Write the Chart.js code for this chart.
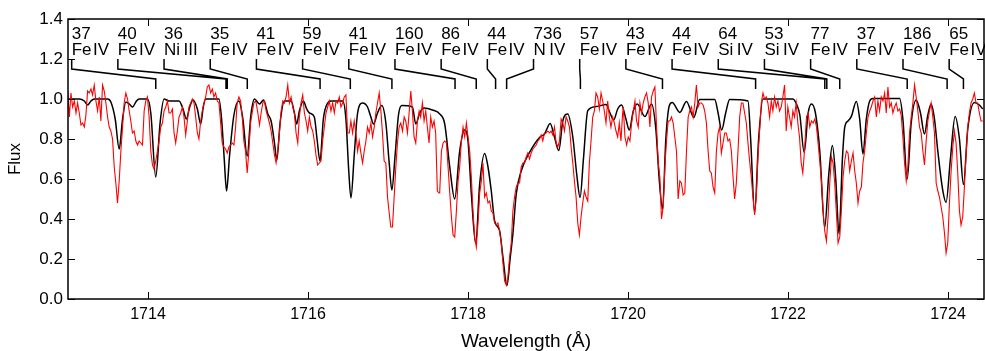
<!DOCTYPE html>
<html>
<head>
<meta charset="utf-8">
<script src="https://cdn.jsdelivr.net/npm/chart.js@4.4.1/dist/chart.umd.min.js"></script>
<style>
  html, body { margin: 0; padding: 0; background: #fff; }
  #wrap { width: 985px; height: 351px; }
</style>
</head>
<body>
<div id="wrap"><canvas id="spec" width="985" height="351"></canvas></div>
<script>
// observed spectrum (red)
const obsWave = [
  1712.996, 1713.017, 1713.037, 1713.058, 1713.079, 1713.100, 1713.120, 1713.141, 1713.162, 1713.183,
  1713.204, 1713.224, 1713.245, 1713.266, 1713.287, 1713.307, 1713.328, 1713.349, 1713.370, 1713.391,
  1713.411, 1713.432, 1713.453, 1713.474, 1713.495, 1713.515, 1713.536, 1713.557, 1713.578, 1713.598,
  1713.619, 1713.640, 1713.661, 1713.682, 1713.702, 1713.723, 1713.744, 1713.765, 1713.785, 1713.806,
  1713.827, 1713.848, 1713.869, 1713.889, 1713.910, 1713.931, 1713.952, 1713.972, 1713.993, 1714.014,
  1714.035, 1714.056, 1714.076, 1714.097, 1714.118, 1714.139, 1714.159, 1714.180, 1714.201, 1714.222,
  1714.243, 1714.263, 1714.284, 1714.305, 1714.326, 1714.346, 1714.367, 1714.388, 1714.409, 1714.430,
  1714.450, 1714.471, 1714.492, 1714.513, 1714.534, 1714.554, 1714.575, 1714.596, 1714.617, 1714.637,
  1714.658, 1714.679, 1714.700, 1714.721, 1714.741, 1714.762, 1714.783, 1714.804, 1714.824, 1714.845,
  1714.866, 1714.887, 1714.908, 1714.928, 1714.949, 1714.970, 1714.991, 1715.011, 1715.032, 1715.053,
  1715.074, 1715.095, 1715.115, 1715.136, 1715.157, 1715.178, 1715.198, 1715.219, 1715.240, 1715.261,
  1715.282, 1715.302, 1715.323, 1715.344,
  1715.352, 1715.373, 1715.394, 1715.414, 1715.435, 1715.456, 1715.477, 1715.498, 1715.518, 1715.539,
  1715.560, 1715.581, 1715.601, 1715.622, 1715.643, 1715.664, 1715.685, 1715.705, 1715.726, 1715.747,
  1715.768, 1715.789, 1715.809, 1715.830, 1715.851, 1715.872, 1715.892, 1715.913, 1715.934, 1715.955,
  1715.976, 1715.996, 1716.017, 1716.038, 1716.059, 1716.079, 1716.100, 1716.121, 1716.142, 1716.163,
  1716.183, 1716.204, 1716.225, 1716.246, 1716.266, 1716.287, 1716.308, 1716.329, 1716.350, 1716.370,
  1716.391, 1716.412, 1716.433, 1716.453, 1716.474, 1716.495, 1716.516, 1716.536, 1716.557, 1716.578,
  1716.599, 1716.620, 1716.640, 1716.661, 1716.682, 1716.703, 1716.724, 1716.744, 1716.765, 1716.786,
  1716.807, 1716.828, 1716.848, 1716.869, 1716.890, 1716.911, 1716.931, 1716.952, 1716.973, 1716.994,
  1717.015, 1717.035, 1717.056, 1717.077, 1717.098, 1717.118, 1717.139, 1717.160, 1717.181, 1717.202,
  1717.222, 1717.243, 1717.264, 1717.285, 1717.305, 1717.326, 1717.347, 1717.368, 1717.389, 1717.409,
  1717.430, 1717.451, 1717.472, 1717.492, 1717.513, 1717.534, 1717.555, 1717.576, 1717.596, 1717.617,
  1717.638,
  1717.647, 1717.668, 1717.689, 1717.709, 1717.730, 1717.751, 1717.772, 1717.793, 1717.813, 1717.834,
  1717.855, 1717.876, 1717.896, 1717.917, 1717.938, 1717.959, 1717.980, 1718.000, 1718.021, 1718.042,
  1718.063, 1718.084, 1718.104, 1718.125, 1718.146, 1718.167, 1718.187, 1718.208, 1718.229, 1718.250,
  1718.271, 1718.291, 1718.312, 1718.333, 1718.354, 1718.374, 1718.395, 1718.416, 1718.437, 1718.458,
  1718.478, 1718.499, 1718.520, 1718.541, 1718.561, 1718.582, 1718.603, 1718.624, 1718.645, 1718.665,
  1718.686, 1718.707, 1718.728, 1718.748, 1718.769, 1718.790, 1718.811, 1718.832, 1718.852, 1718.873,
  1718.894, 1718.915, 1718.935, 1718.956, 1718.977, 1718.998, 1719.019, 1719.039, 1719.060, 1719.081,
  1719.102, 1719.123, 1719.143, 1719.164, 1719.185, 1719.206, 1719.226, 1719.247, 1719.268, 1719.289,
  1719.310, 1719.330, 1719.351, 1719.372, 1719.393, 1719.413, 1719.434, 1719.455, 1719.476, 1719.497,
  1719.517, 1719.538, 1719.559, 1719.580, 1719.600, 1719.621, 1719.642, 1719.663, 1719.684, 1719.704,
  1719.725, 1719.746, 1719.767, 1719.787, 1719.808, 1719.829, 1719.850, 1719.871, 1719.891, 1719.912,
  1719.933,
  1719.941, 1719.962, 1719.983, 1720.003, 1720.024, 1720.045, 1720.066, 1720.087, 1720.107, 1720.128,
  1720.149, 1720.170, 1720.190, 1720.211, 1720.232, 1720.253, 1720.274, 1720.294, 1720.315, 1720.336,
  1720.357, 1720.378, 1720.398, 1720.419, 1720.440, 1720.461, 1720.481, 1720.502, 1720.523, 1720.544,
  1720.565, 1720.585, 1720.606, 1720.627, 1720.648, 1720.668, 1720.689, 1720.710, 1720.731, 1720.752,
  1720.772, 1720.793, 1720.814, 1720.835, 1720.855, 1720.876, 1720.897, 1720.918, 1720.939, 1720.959,
  1720.980, 1721.001, 1721.022, 1721.042, 1721.063, 1721.084, 1721.105, 1721.126, 1721.146, 1721.167,
  1721.188, 1721.209, 1721.229, 1721.250, 1721.271, 1721.292, 1721.313, 1721.333, 1721.354, 1721.375,
  1721.396, 1721.417, 1721.437, 1721.458, 1721.479, 1721.500, 1721.520, 1721.541, 1721.562, 1721.583,
  1721.604, 1721.624, 1721.645, 1721.666, 1721.687, 1721.707, 1721.728, 1721.749, 1721.770, 1721.791,
  1721.811, 1721.832, 1721.853, 1721.874, 1721.894, 1721.915, 1721.936, 1721.957, 1721.978, 1721.998,
  1722.019, 1722.040, 1722.061, 1722.081, 1722.102, 1722.123, 1722.144, 1722.165, 1722.185, 1722.206,
  1722.231, 1722.252, 1722.272, 1722.293, 1722.314, 1722.335, 1722.356, 1722.376, 1722.397, 1722.418,
  1722.439, 1722.459, 1722.480, 1722.501, 1722.522, 1722.543, 1722.563, 1722.584, 1722.605, 1722.626,
  1722.647, 1722.667, 1722.688, 1722.709, 1722.730, 1722.750, 1722.771, 1722.792, 1722.813, 1722.834,
  1722.854, 1722.875, 1722.896, 1722.917, 1722.937, 1722.958, 1722.979, 1723.000, 1723.021, 1723.041,
  1723.062, 1723.083, 1723.104, 1723.124, 1723.145, 1723.166, 1723.187, 1723.208, 1723.228, 1723.249,
  1723.270, 1723.291, 1723.311, 1723.332, 1723.353, 1723.374, 1723.395, 1723.415, 1723.436, 1723.457,
  1723.478, 1723.498, 1723.519, 1723.540, 1723.561, 1723.582, 1723.602, 1723.623, 1723.644, 1723.665,
  1723.686, 1723.706, 1723.727, 1723.748, 1723.769, 1723.789, 1723.810, 1723.831, 1723.852, 1723.873,
  1723.893, 1723.914, 1723.935, 1723.956, 1723.976, 1723.997, 1724.018, 1724.039, 1724.060, 1724.080,
  1724.101, 1724.122, 1724.143, 1724.163, 1724.184, 1724.205, 1724.226, 1724.247, 1724.267, 1724.288,
  1724.309, 1724.330, 1724.350, 1724.371, 1724.392, 1724.413, 1724.434
];
const obsFlux = [
  1.04, 0.91, 1.03, 0.96, 0.99, 0.93, 0.98, 0.93, 0.87, 0.88,
  0.86, 0.92, 1.04, 1.03, 1.05, 1.02, 1.07, 0.99, 0.94, 1.01,
  0.89, 1.07, 1.04, 0.98, 0.91, 0.86, 0.84, 0.80, 0.66, 0.58,
  0.48, 0.59, 0.74, 0.86, 0.98, 1.03, 1.00, 0.94, 0.89, 0.83,
  0.84, 0.79, 0.77, 0.79, 0.78, 0.77, 0.94, 0.99, 1.01, 0.91,
  0.74, 0.67, 0.65, 0.69, 0.74, 0.79, 0.86, 0.88, 0.94, 0.96,
  0.99, 0.93, 0.93, 0.95, 0.83, 0.78, 0.84, 0.91, 0.93, 0.96,
  0.91, 0.82, 0.89, 0.96, 0.98, 1.00, 0.98, 0.91, 0.83, 0.80,
  0.89, 0.94, 0.98, 1.01, 1.06, 1.07, 1.03, 1.05, 1.01, 1.03,
  0.99, 0.98, 0.88, 0.78, 0.76, 0.75, 0.73, 0.76, 0.77, 0.78,
  0.77, 0.86, 0.98, 1.01, 0.99, 0.91, 0.79, 0.74, 0.63, 0.74,
  0.88, 0.93, 0.98, 0.99,
  0.98, 0.93, 0.87, 0.93, 0.98, 0.99, 0.94, 0.91, 0.88, 0.84,
  0.78, 0.72, 0.68, 0.74, 0.83, 0.94, 0.99, 0.98, 1.01, 1.07,
  0.98, 1.01, 0.96, 0.93, 0.83, 0.78, 0.91, 0.98, 1.02, 0.93,
  0.89, 0.84, 0.91, 0.86, 0.84, 0.79, 0.72, 0.67, 0.68, 0.69,
  0.79, 0.86, 0.93, 0.96, 0.99, 0.94, 0.98, 0.93, 0.99, 0.98,
  1.01, 0.96, 0.98, 1.01, 1.02, 0.83, 0.83, 0.89, 0.83, 0.89,
  0.83, 0.74, 0.79, 0.73, 0.68, 0.74, 0.79, 0.86, 0.83, 0.88,
  0.81, 0.86, 0.93, 0.98, 1.03, 0.94, 0.83, 0.69, 0.68, 0.51,
  0.43, 0.36, 0.36, 0.51, 0.66, 0.78, 0.86, 0.88, 0.84, 0.91,
  0.89, 0.83, 0.93, 1.04, 0.94, 0.81, 0.78, 0.89, 0.94, 0.91,
  0.98, 0.89, 0.94, 0.86, 0.78, 0.91, 0.86, 0.89, 0.83, 0.54,
  0.53,
  0.54, 0.74, 0.78, 0.79, 0.78, 0.66, 0.53, 0.41, 0.32, 0.31,
  0.44, 0.59, 0.66, 0.79, 0.86, 0.81, 0.88, 0.81, 0.74, 0.61,
  0.43, 0.31, 0.26, 0.38, 0.53, 0.59, 0.68, 0.51, 0.53, 0.48,
  0.49, 0.44, 0.43, 0.38, 0.37, 0.38, 0.34, 0.28, 0.18, 0.09,
  0.07, 0.11, 0.21, 0.28, 0.44, 0.51, 0.56, 0.58, 0.58, 0.66,
  0.68, 0.68, 0.71, 0.73, 0.70, 0.73, 0.75, 0.76, 0.77, 0.79,
  0.80, 0.82, 0.79, 0.83, 0.83, 0.84, 0.83, 0.84, 0.82, 0.86,
  0.78, 0.76, 0.79, 0.90, 0.88, 0.84, 0.91, 0.89, 0.86, 0.76,
  0.68, 0.59, 0.51, 0.38, 0.32, 0.41, 0.48, 0.54, 0.51, 0.49,
  0.68, 0.79, 0.91, 0.94, 1.03, 1.01, 0.95, 1.03, 0.99, 0.94,
  0.88, 0.99, 0.91, 0.86, 0.91, 0.88, 0.84, 0.81, 0.88, 0.79,
  0.93,
  0.96, 0.81, 0.77, 0.81, 0.79, 0.88, 0.94, 0.99, 0.89, 0.86,
  0.98, 0.93, 0.98, 1.01, 1.03, 0.98, 0.86, 1.01, 1.04, 1.06,
  0.86, 0.68, 0.61, 0.40, 0.46, 0.66, 0.79, 0.89, 0.89, 0.91,
  0.88, 0.81, 0.74, 0.50, 0.59, 0.58, 0.52, 0.53, 0.74, 0.91,
  0.94, 0.96, 0.91, 0.98, 1.07, 0.96, 0.98, 0.98, 0.97, 0.94,
  0.88, 0.74, 0.64, 0.63, 0.56, 0.53, 0.74, 0.83, 0.86, 0.73,
  0.78, 0.83, 0.83, 0.79, 0.80, 0.74, 0.61, 0.50, 0.58, 0.74,
  0.91, 0.98, 0.98, 0.93, 0.88, 0.78, 0.69, 0.61, 0.51, 0.42,
  0.51, 0.71, 0.84, 0.98, 1.03, 1.00, 1.01, 0.98, 0.91, 0.99,
  0.94, 1.01, 0.96, 0.99, 0.94, 0.96, 1.01, 1.07, 0.84, 0.96,
  0.91, 0.86, 0.94, 0.91, 0.98, 0.88, 0.81, 0.68, 0.63, 0.74,
  0.91, 0.93, 0.86, 0.89, 0.88, 0.90, 0.86, 0.78, 0.69, 0.59,
  0.44, 0.34, 0.29, 0.41, 0.58, 0.71, 0.68, 0.58, 0.43, 0.28,
  0.31, 0.44, 0.61, 0.69, 0.74, 0.73, 0.64, 0.69, 0.73, 0.64,
  0.58, 0.48, 0.54, 0.56, 0.68, 0.74, 0.83, 0.91, 0.94, 0.96,
  0.99, 1.01, 0.91, 0.99, 0.94, 1.01, 0.99, 1.03, 0.93, 1.06,
  0.96, 0.98, 0.93, 0.96, 0.98, 0.94, 0.95, 0.92, 0.81, 0.68,
  0.59, 0.66, 0.83, 0.91, 0.98, 1.07, 1.01, 0.94, 0.86, 0.83,
  0.74, 0.67, 0.79, 0.89, 0.94, 0.98, 0.91, 0.83, 0.58, 0.54,
  0.51, 0.46, 0.41, 0.33, 0.23, 0.28, 0.48, 0.64, 0.76, 0.84,
  0.78, 0.63, 0.44, 0.37, 0.41, 0.56, 0.72, 0.86, 0.93, 0.98,
  1.00, 1.03, 0.98, 0.98, 0.93, 0.89, 0.89
];

// synthetic model spectrum (black), knots of the smooth profile
const modelWave = [
  1712.975, 1713.141, 1713.204, 1713.245, 1713.287, 1713.328, 1713.495, 1713.536, 1713.590, 1713.640,
  1713.682, 1713.723, 1713.765, 1713.806, 1713.856, 1713.889, 1713.993, 1714.035, 1714.097, 1714.151,
  1714.201, 1714.263, 1714.388, 1714.438, 1714.480, 1714.521, 1714.563, 1714.617, 1714.658, 1714.691,
  1714.721, 1714.887, 1714.920, 1714.953, 1714.982, 1715.020, 1715.074, 1715.136, 1715.186, 1715.240,
  1715.286, 1715.331, 1715.394, 1715.444, 1715.498, 1715.539, 1715.581, 1715.610, 1715.651, 1715.705,
  1715.789, 1715.830, 1715.859, 1715.892, 1715.942, 1715.984, 1716.017, 1716.079, 1716.113, 1716.150,
  1716.192, 1716.246, 1716.287, 1716.433, 1716.474, 1716.508, 1716.537, 1716.578, 1716.620, 1716.682,
  1716.744, 1716.786, 1716.819, 1716.869, 1716.923, 1716.973, 1717.015, 1717.048, 1717.089, 1717.131,
  1717.172, 1717.305, 1717.347, 1717.397, 1717.451, 1717.555, 1717.647, 1717.709, 1717.772, 1717.834,
  1717.896, 1717.959, 1718.000, 1718.042, 1718.096, 1718.146, 1718.208, 1718.250, 1718.291, 1718.333,
  1718.395, 1718.437, 1718.487, 1718.528, 1718.561, 1718.603, 1718.665, 1718.769, 1718.894, 1718.956,
  1719.027, 1719.081, 1719.135, 1719.185, 1719.247, 1719.310, 1719.360, 1719.401, 1719.443, 1719.497,
  1719.600, 1719.725, 1719.775, 1719.821, 1719.871, 1719.920, 1719.974, 1720.016, 1720.066, 1720.116,
  1720.211, 1720.294, 1720.348, 1720.390, 1720.432, 1720.473, 1720.515, 1720.552, 1720.648, 1720.731,
  1720.822, 1720.897, 1721.084, 1721.126, 1721.171, 1721.221, 1721.271, 1721.500, 1721.533, 1721.583,
  1721.633, 1721.687, 1722.061, 1722.111, 1722.148, 1722.202, 1722.252, 1722.293, 1722.343, 1722.397,
  1722.459, 1722.509, 1722.555, 1722.597, 1722.638, 1722.680, 1722.709, 1722.750, 1722.792, 1722.854,
  1722.896, 1722.937, 1722.979, 1723.021, 1723.062, 1723.395, 1723.436, 1723.490, 1723.540, 1723.602,
  1723.656, 1723.706, 1723.748, 1723.789, 1723.831, 1723.872, 1723.935, 1723.976, 1724.030, 1724.089,
  1724.143, 1724.193, 1724.247, 1724.330, 1724.392, 1724.434
];
const modelFlux = [
  1.00, 1.00, 0.99, 0.97, 0.99, 1.00, 1.00, 0.985, 0.90, 0.75,
  0.90, 0.985, 0.975, 0.96, 0.99, 1.00, 1.00, 0.93, 0.61, 0.88,
  1.00, 0.99, 0.99, 0.95, 0.90, 0.96, 0.995, 0.95, 0.875, 0.96,
  1.00, 1.00, 0.90, 0.70, 0.54, 0.72, 0.92, 0.99, 0.90, 0.715,
  0.92, 1.00, 0.975, 0.995, 0.925, 0.89, 0.78, 0.695, 0.88, 0.99,
  0.99, 0.93, 0.875, 0.94, 0.99, 0.95, 0.93, 0.91, 0.80, 0.69,
  0.90, 0.98, 0.99, 0.99, 0.90, 0.65, 0.505, 0.72, 0.93, 0.98,
  0.96, 0.91, 0.875, 0.93, 0.967, 0.88, 0.68, 0.545, 0.72, 0.92,
  0.967, 0.96, 0.875, 0.93, 0.955, 0.945, 0.925, 0.875, 0.66, 0.50,
  0.74, 0.845, 0.79, 0.525, 0.278, 0.575, 0.728, 0.66, 0.54, 0.39,
  0.342, 0.208, 0.067, 0.208, 0.325, 0.525, 0.64, 0.733, 0.808, 0.825,
  0.878, 0.81, 0.742, 0.89, 0.925, 0.81, 0.62, 0.508, 0.70, 0.942,
  0.962, 0.972, 0.93, 0.895, 0.95, 0.97, 0.90, 0.845, 0.94, 0.975,
  0.912, 0.975, 0.85, 0.60, 0.45, 0.80, 0.965, 0.983, 0.933, 0.988,
  0.908, 0.997, 0.997, 0.93, 0.845, 0.93, 0.997, 0.99, 0.80, 0.433,
  0.80, 1.00, 1.00, 0.97, 0.92, 0.733, 0.93, 0.975, 0.93, 0.74,
  0.358, 0.62, 0.767, 0.60, 0.325, 0.70, 0.858, 0.89, 0.913, 0.988,
  0.90, 0.725, 0.90, 0.99, 1.003, 1.003, 0.90, 0.60, 0.88, 0.995,
  0.93, 0.825, 0.92, 0.975, 0.90, 0.742, 0.542, 0.483, 0.70, 0.912,
  0.80, 0.572, 0.85, 0.983, 0.97, 0.95
];

// line identifications: rest wavelength, strength, ion
const lineWave = [
  1714.097, 1714.975, 1714.991, 1715.241, 1716.151, 1716.529, 1717.049, 1717.838, 1718.103, 1718.345,
  1718.483, 1719.405, 1720.431, 1721.595, 1722.460, 1722.485, 1722.647, 1723.490, 1723.989, 1724.193
];
const lineStrength = [37, 40, 36, 35, 41, 59, 41, 160, 86, 44, 736, 57, 43, 44, 64, 53, 77, 37, 186, 65];
const lineIon = [
  'Fe\u200aIV', 'Fe\u200aIV', 'Ni\u2009III', 'Fe\u200aIV', 'Fe\u200aIV', 'Fe\u200aIV', 'Fe\u200aIV',
  'Fe\u200aIV', 'Fe\u200aIV', 'Fe\u200aIV', 'N\u2009IV', 'Fe\u200aIV', 'Fe\u200aIV', 'Fe\u200aIV',
  'Si\u2009IV', 'Si\u2009IV', 'Fe\u200aIV', 'Fe\u200aIV', 'Fe\u200aIV', 'Fe\u200aIV'
];

const xTicks = [1714, 1716, 1718, 1720, 1722, 1724];
const yTicks = [0.0, 0.2, 0.4, 0.6, 0.8, 1.0, 1.2, 1.4];

const FONT = "'Liberation Sans', Arial, sans-serif";
Chart.defaults.font.family = FONT;
Chart.defaults.color = '#000';

// label row layout (in wavelength units along the top of the plot)
const idFirst = 1713.046;
const idStep = 0.5773;

const lineIds = {
  id: 'lineIds',
  afterDatasetsDraw(chart) {
    const { ctx, chartArea: a, scales: { x, y } } = chart;
    ctx.save();

    // frame and inward ticks
    ctx.strokeStyle = '#000';
    ctx.lineWidth = 1.5;
    ctx.strokeRect(a.left, a.top, a.right - a.left, a.bottom - a.top);
    ctx.lineWidth = 1;
    ctx.beginPath();
    xTicks.forEach(v => {
      const px = Math.round(x.getPixelForValue(v)) + 0.5;
      ctx.moveTo(px, a.bottom); ctx.lineTo(px, a.bottom - 7);
      ctx.moveTo(px, a.top); ctx.lineTo(px, a.top + 7);
    });
    yTicks.forEach(v => {
      const py = Math.round(y.getPixelForValue(v)) + 0.5;
      ctx.moveTo(a.left, py); ctx.lineTo(a.left + 7, py);
      ctx.moveTo(a.right, py); ctx.lineTo(a.right - 7, py);
    });
    ctx.stroke();

    // connectors from label to line position
    ctx.lineWidth = 1.5;
    ctx.beginPath();
    lineWave.forEach((w, i) => {
      const lx = x.getPixelForValue(idFirst + i * idStep);
      const wx = x.getPixelForValue(w);
      ctx.moveTo(lx, y.getPixelForValue(1.2));
      ctx.lineTo(lx, y.getPixelForValue(1.15));
      ctx.lineTo(wx, y.getPixelForValue(1.1));
      ctx.lineTo(wx, y.getPixelForValue(1.05));
    });
    ctx.stroke();

    // labels
    ctx.fillStyle = '#000';
    ctx.font = '17px ' + FONT;
    ctx.textAlign = 'left';
    ctx.textBaseline = 'alphabetic';
    lineWave.forEach((w, i) => {
      const lx = x.getPixelForValue(idFirst + i * idStep);
      ctx.fillText(String(lineStrength[i]), lx, y.getPixelForValue(1.3));
      ctx.fillText(lineIon[i], lx, y.getPixelForValue(1.22));
    });
    ctx.restore();
  }
};

new Chart(document.getElementById('spec'), {
  type: 'line',
  data: {
    datasets: [
      {
        label: 'observed',
        data: obsWave.map((w, i) => ({ x: w, y: obsFlux[i] })),
        borderColor: '#ff0000',
        borderWidth: 1.1,
        pointRadius: 0,
        tension: 0,
        order: 0
      },
      {
        label: 'model',
        data: modelWave.map((w, i) => ({ x: w, y: modelFlux[i] })),
        borderColor: '#000000',
        borderWidth: 1.5,
        pointRadius: 0,
        cubicInterpolationMode: 'monotone',
        order: 1
      }
    ]
  },
  options: {
    responsive: false,
    animation: false,
    devicePixelRatio: 1,
    layout: { padding: { top: 19, right: 1, left: 0, bottom: 0 } },
    plugins: { legend: { display: false }, tooltip: { enabled: false } },
    scales: {
      x: {
        type: 'linear',
        min: 1713,
        max: 1724.45,
        afterBuildTicks: s => { s.ticks = xTicks.map(v => ({ value: v })); },
        afterFit: s => { s.height = 52; },
        grid: { display: true, drawOnChartArea: false, drawTicks: false },
        border: { display: false },
        ticks: {
          autoSkip: false,
          maxRotation: 0,
          padding: 6,
          font: { size: 16 },
          color: '#000',
          callback: v => String(v)
        },
        title: {
          display: true,
          text: 'Wavelength (Å)',
          font: { size: 19, lineHeight: 1 },
          color: '#000',
          padding: 0
        }
      },
      y: {
        type: 'linear',
        min: 0,
        max: 1.4,
        afterBuildTicks: s => { s.ticks = yTicks.map(v => ({ value: v })); },
        afterFit: s => { s.width = 68; },
        grid: { display: true, drawOnChartArea: false, drawTicks: false },
        border: { display: false },
        ticks: {
          padding: 5,
          font: { size: 17 },
          color: '#000',
          callback: v => v.toFixed(1)
        },
        title: {
          display: true,
          text: 'Flux',
          font: { size: 17, lineHeight: 1 },
          color: '#000',
          padding: { top: 7, bottom: 0 }
        }
      }
    }
  },
  plugins: [lineIds]
});
</script>
</body>
</html>
